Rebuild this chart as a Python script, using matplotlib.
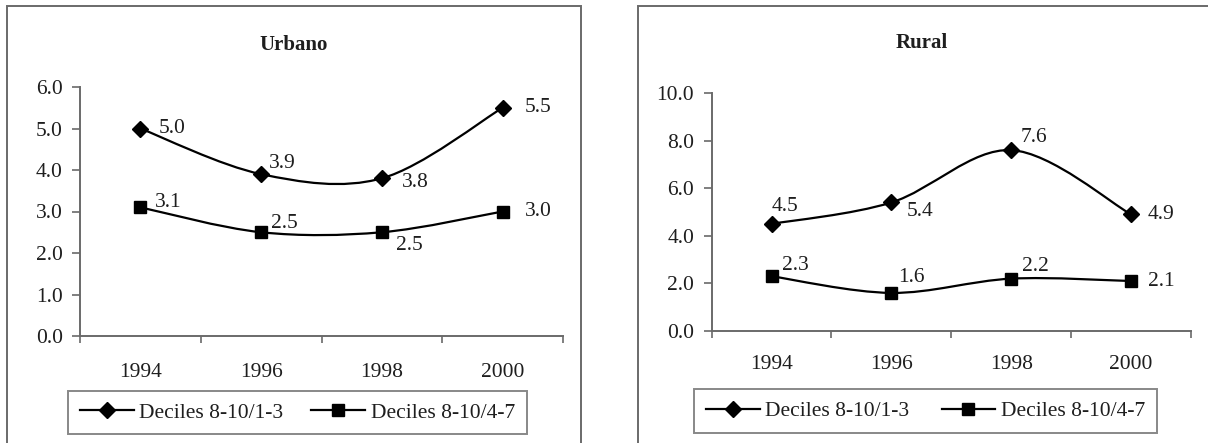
import matplotlib
matplotlib.use("Agg")
import matplotlib.pyplot as plt
from matplotlib.path import Path
from matplotlib.patches import PathPatch, Rectangle
from matplotlib.lines import Line2D
import numpy as np

# ---- data ----
years = ["1994", "1996", "1998", "2000"]
urbano_1_3 = [5.0, 3.9, 3.8, 5.5]
urbano_4_7 = [3.1, 2.5, 2.5, 3.0]
rural_1_3 = [4.5, 5.4, 7.6, 4.9]
rural_4_7 = [2.3, 1.6, 2.2, 2.1]
series_names = ["Deciles 8-10/1-3", "Deciles 8-10/4-7"]

# label offsets in pixels (dx to left edge of text, dy downward)
urb_off_1 = [(18, 0), (8, -11), (20, 4), (22, 0)]
urb_off_2 = [(14, -5), (10, -9), (14, 13), (22, 0)]
rur_off_1 = [(0, -17), (15, 9), (9, -13), (17, 0)]
rur_off_2 = [(10, -11), (7, -15), (11, -12), (17, 0)]

W, H = 1208, 443
DPI = 100
FONT = "Liberation Serif"
TXT = "#1e1e1e"
GRAY = "#6a6a6a"
FS = 15.5

plt.rcParams["font.family"] = FONT
fig = plt.figure(figsize=(W / DPI, H / DPI), dpi=DPI)


def fx(px):
    return px / W


def fy(py):
    return 1 - py / H


def smooth_path(xs, ys):
    """Catmull-Rom style smoothed curve as cubic Bezier segments."""
    pts = np.column_stack([xs, ys]).astype(float)
    n = len(pts)
    verts = [pts[0]]
    codes = [Path.MOVETO]
    for i in range(n - 1):
        p0 = pts[i - 1] if i > 0 else pts[i]
        p1 = pts[i]
        p2 = pts[i + 1]
        p3 = pts[i + 2] if i + 2 < n else pts[i + 1]
        c1 = p1 + (p2 - p0) / 6.0
        c2 = p2 - (p3 - p1) / 6.0
        verts += [c1, c2, p2]
        codes += [Path.CURVE4] * 3
    return Path(verts, codes)


def panel(frame, axbox, title, title_xy, ymax, ystep, s1, s2, off1, off2,
          legbox, xpad, colspace):
    fx0, fy0, fx1 = frame
    fig.add_artist(Rectangle((fx(fx0), fy(H + 20)), fx(fx1) - fx(fx0),
                             fy(fy0) - fy(H + 20), transform=fig.transFigure,
                             fill=False, edgecolor=GRAY, linewidth=1.4))
    x0, ytop, x1, ybot = axbox
    ax = fig.add_axes([fx(x0), fy(ybot), fx(x1) - fx(x0), fy(ytop) - fy(ybot)])
    ax.set_xlim(0, 4)
    ax.set_ylim(0, ymax)
    ax.patch.set_alpha(0)
    for s in ["top", "right"]:
        ax.spines[s].set_visible(False)
    for s in ["left", "bottom"]:
        ax.spines[s].set_color(GRAY)
        ax.spines[s].set_linewidth(1.4)
    ax.set_yticks(np.arange(0, ymax + 0.01, ystep))
    ax.set_yticklabels([f"{v:.1f}" for v in np.arange(0, ymax + 0.01, ystep)])
    ax.set_xticks([0, 1, 2, 3, 4])
    ax.set_xticklabels([])
    ax.set_xticks([0.5, 1.5, 2.5, 3.5], minor=True)
    ax.set_xticklabels(years, minor=True)
    ax.tick_params(axis="y", length=6, width=1.2, color=GRAY, pad=6.5,
                   labelsize=FS, labelcolor=TXT)
    ax.tick_params(axis="x", which="major", length=5, width=1.2, color=GRAY)
    ax.tick_params(axis="x", which="minor", length=0, pad=xpad,
                   labelsize=FS, labelcolor=TXT)

    xs = np.arange(4) + 0.5
    styles = [dict(marker="D", markersize=8.5), dict(marker="s", markersize=8.5)]
    for vals, offs, st in zip([s1, s2], [off1, off2], styles):
        ax.add_patch(PathPatch(smooth_path(xs, vals), facecolor="none",
                               edgecolor="black", linewidth=1.6, zorder=3))
        ax.plot(xs, vals, linestyle="none", color="black",
                markerfacecolor="black", markeredgecolor="black", zorder=4, **st)
        for x, v, (dx, dy) in zip(xs, vals, offs):
            ax.annotate(f"{v:.1f}", (x, v), xytext=(dx * 72 / DPI, -dy * 72 / DPI),
                        textcoords="offset points", ha="left", va="center",
                        fontsize=FS, color=TXT, zorder=5)

    fig.text(fx(title_xy[0]), fy(title_xy[1]), title, ha="center", va="center",
             fontsize=15, fontweight="bold", color=TXT)

    handles = [Line2D([], [], color="black", linewidth=1.6, **st) for st in styles]
    lx0, ly0, lx1, ly1 = legbox
    leg = fig.legend(handles, series_names, loc="center",
                     bbox_to_anchor=(fx((lx0 + lx1) / 2), fy((ly0 + ly1) / 2)),
                     ncol=2, frameon=True, fancybox=False, fontsize=FS,
                     handlelength=2.5, handletextpad=0.25, columnspacing=colspace,
                     borderpad=0.55, borderaxespad=0)
    leg.get_frame().set_edgecolor(GRAY)
    leg.get_frame().set_linewidth(1.4)
    for t in leg.get_texts():
        t.set_color(TXT)
    return ax


panel((7, 6, 581), (80, 87, 563, 336), "Urbano", (294, 45), 6, 1,
      urbano_1_3, urbano_4_7, urb_off_1, urb_off_2, (64, 392, 531, 433), 19.5, 1.3)
panel((638, 6, 1240), (711.6, 93, 1191, 331), "Rural", (922, 43), 10, 2,
      rural_1_3, rural_4_7, rur_off_1, rur_off_2, (694, 391, 1157, 431), 17, 1.5)

fig.savefig("out.png", dpi=DPI)
